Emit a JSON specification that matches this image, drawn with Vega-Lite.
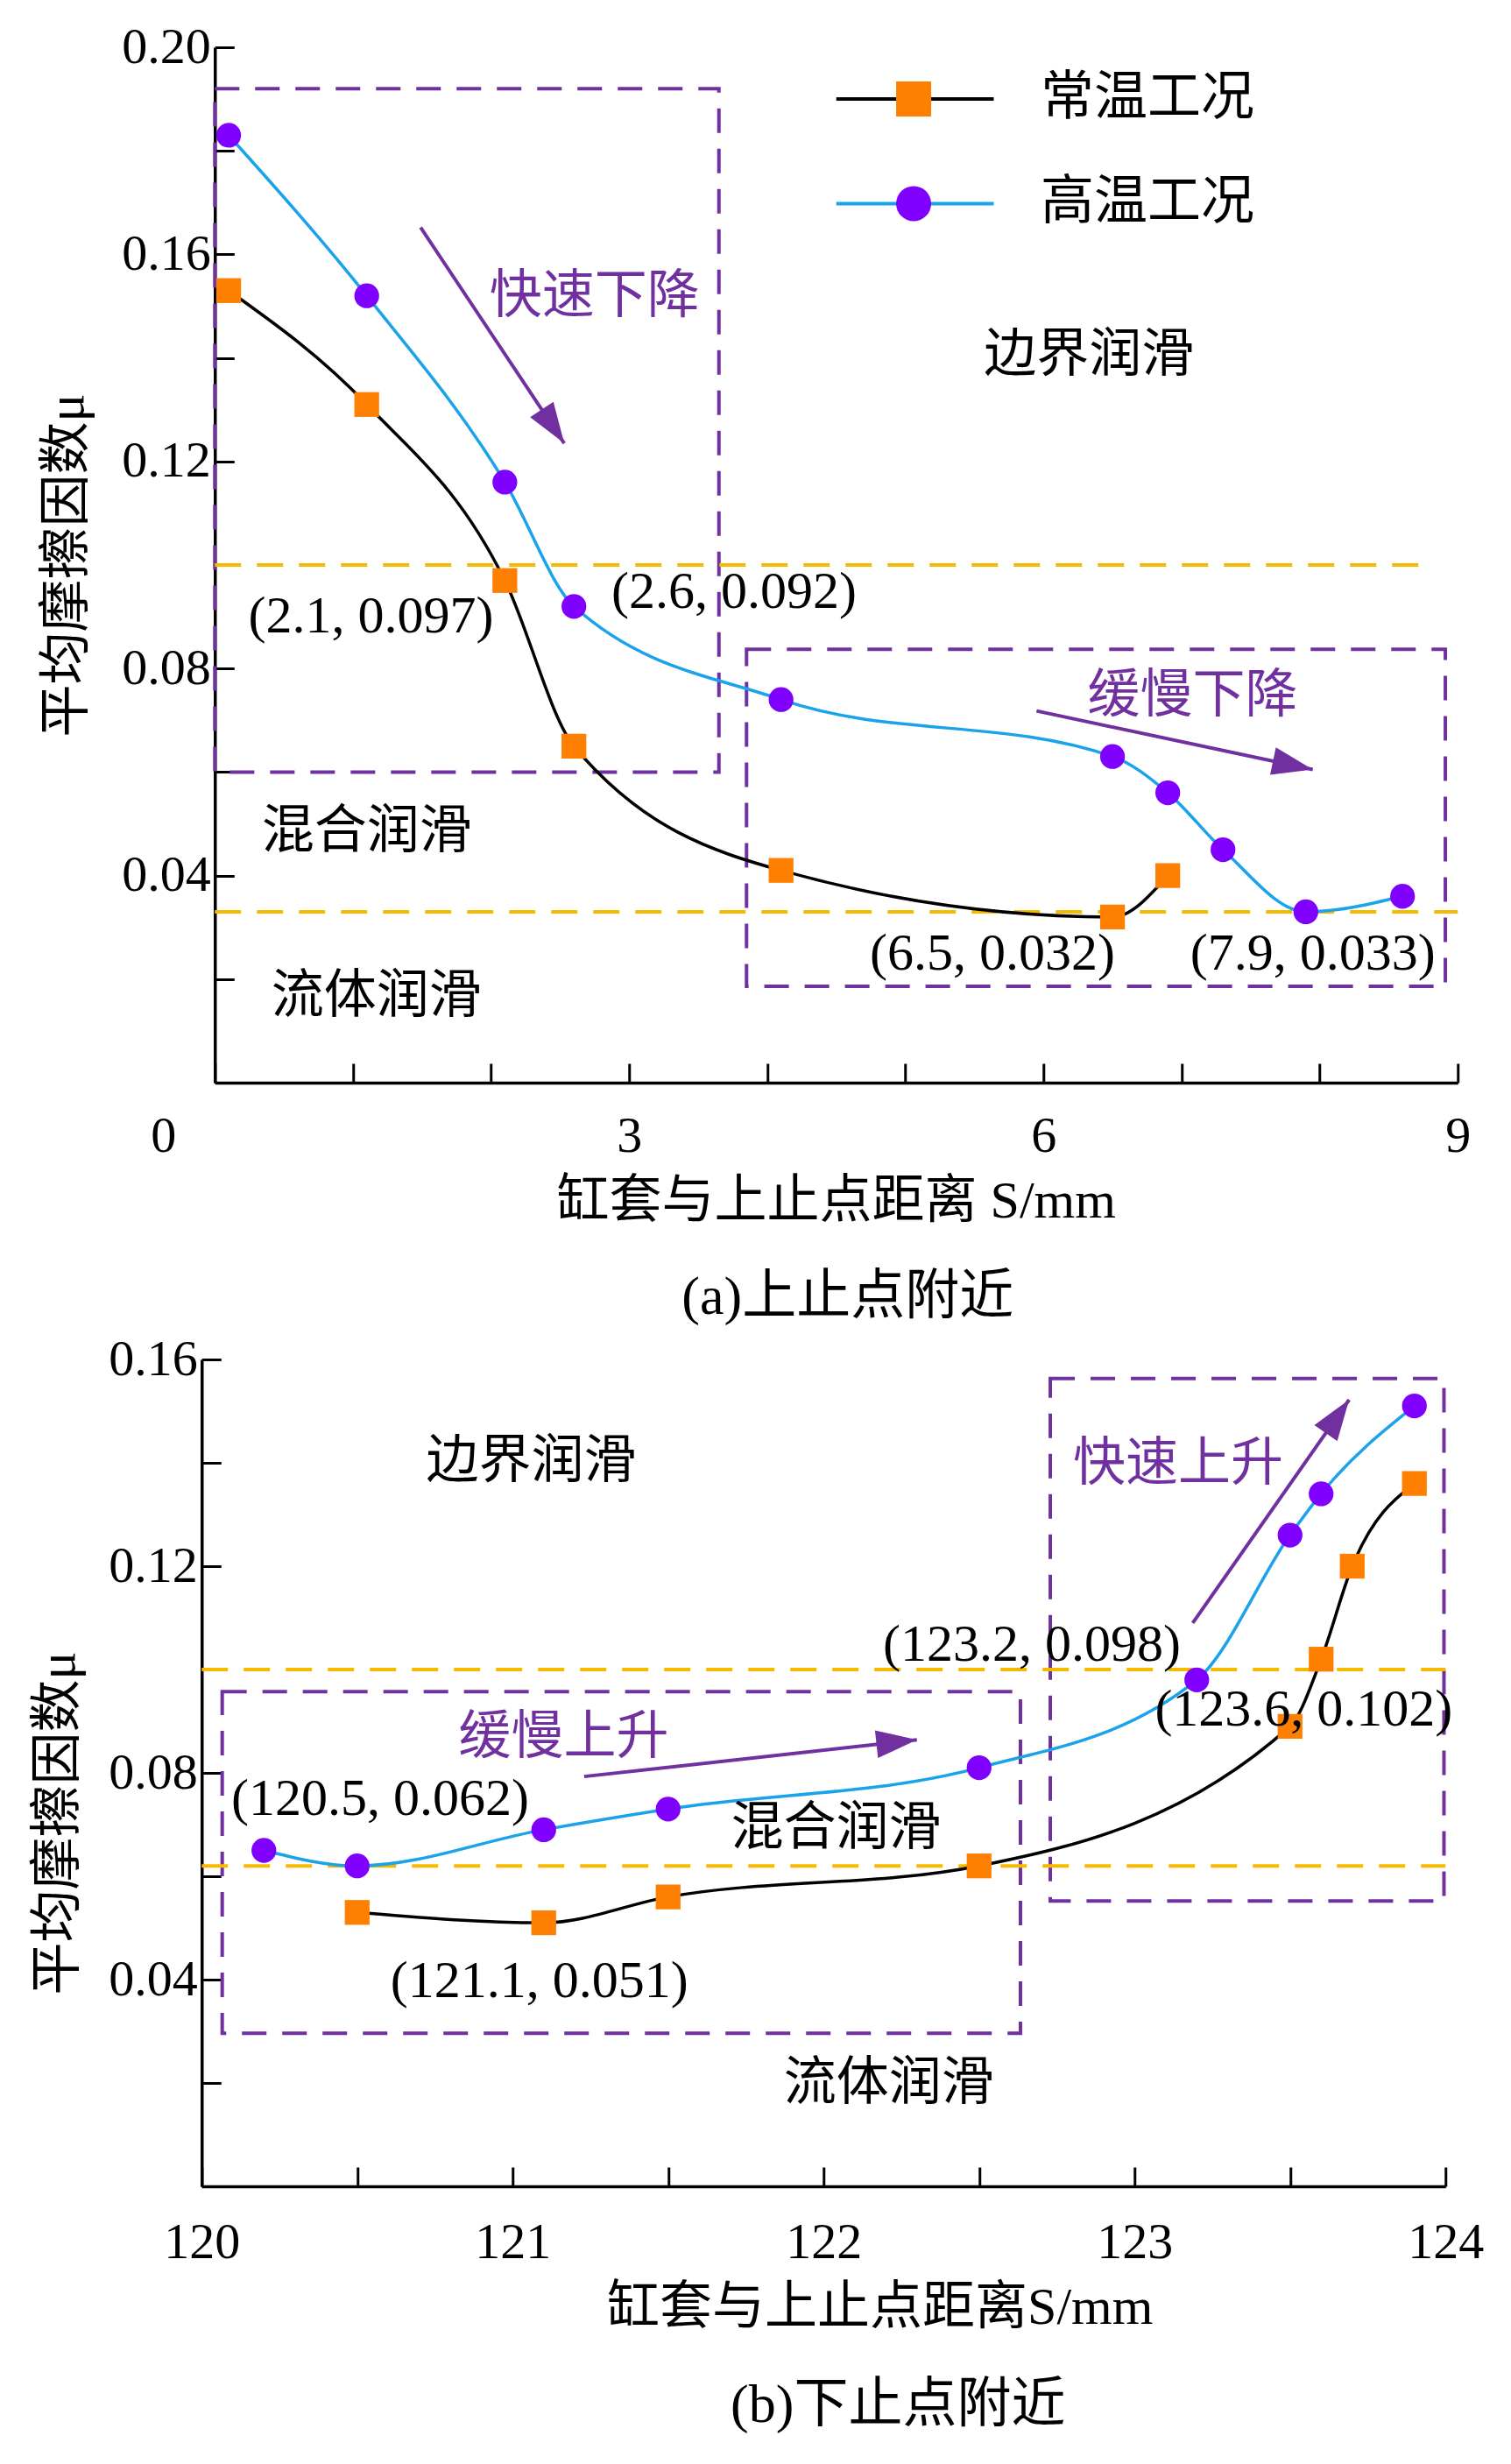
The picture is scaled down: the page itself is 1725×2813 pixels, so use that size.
{
  "$schema": "https://vega.github.io/schema/vega-lite/v6.json",
  "padding": {"left": 36, "top": 25, "right": 20, "bottom": 20},
  "spacing": 11,
  "center": true,
  "config": {
    "font": "Liberation Serif, Noto Sans CJK SC",
    "view": {"stroke": null},
    "axis": {
      "grid": false,
      "domainColor": "#000000",
      "domainWidth": 3.5,
      "tickColor": "#000000",
      "tickWidth": 3,
      "tickSize": -22,
      "labelFontSize": 58,
      "labelColor": "#000000",
      "labelOverlap": false,
      "labelFlush": false,
      "titleFontSize": 60,
      "titleFontWeight": "normal",
      "titleColor": "#000000"
    },
    "title": {"fontSize": 62, "fontWeight": "normal", "color": "#000000"}
  },
  "datasets": {
    "top_curves": [
      {"series": "常温工况", "x": 0.1, "y": 0.153},
      {"series": "常温工况", "x": 1.1, "y": 0.131},
      {"series": "常温工况", "x": 2.1, "y": 0.097},
      {"series": "常温工况", "x": 2.6, "y": 0.065},
      {"series": "常温工况", "x": 4.1, "y": 0.041},
      {"series": "常温工况", "x": 6.5, "y": 0.032},
      {"series": "常温工况", "x": 6.9, "y": 0.040},
      {"series": "高温工况", "x": 0.1, "y": 0.183},
      {"series": "高温工况", "x": 1.1, "y": 0.152},
      {"series": "高温工况", "x": 2.1, "y": 0.116},
      {"series": "高温工况", "x": 2.6, "y": 0.092},
      {"series": "高温工况", "x": 4.1, "y": 0.074},
      {"series": "高温工况", "x": 6.5, "y": 0.063},
      {"series": "高温工况", "x": 6.9, "y": 0.056},
      {"series": "高温工况", "x": 7.3, "y": 0.045},
      {"series": "高温工况", "x": 7.9, "y": 0.033},
      {"series": "高温工况", "x": 8.6, "y": 0.036}
    ],
    "top_refs": [
      {"x": 0, "x2": 8.8, "y": 0.100},
      {"x": 0, "x2": 9, "y": 0.033}
    ],
    "top_boxes": [
      {"x": 0, "x2": 3.65, "y": 0.192, "y2": 0.060},
      {"x": 3.85, "x2": 8.91, "y": 0.0837, "y2": 0.0186}
    ],
    "top_arrows": [
      {"id": 1, "x": 2.53, "y": 0.1235, "x2": 1.49, "y2": 0.1652},
      {"id": 2, "x": 7.95, "y": 0.0605, "x2": 5.95, "y2": 0.0718}
    ],
    "top_labels": [
      {"text": "(2.1, 0.097)", "x": 1.13, "y": 0.090},
      {"text": "(2.6, 0.092)", "x": 3.76, "y": 0.0947},
      {"text": "边界润滑", "x": 6.33, "y": 0.1405},
      {"text": "混合润滑", "x": 1.10, "y": 0.0484},
      {"text": "流体润滑", "x": 1.17, "y": 0.0165},
      {"text": "(6.5, 0.032)", "x": 5.63, "y": 0.0248},
      {"text": "(7.9, 0.033)", "x": 7.95, "y": 0.0248}
    ],
    "top_trends": [
      {"text": "快速下降", "x": 2.75, "y": 0.1518},
      {"text": "缓慢下降", "x": 7.08, "y": 0.0747}
    ],
    "legend_lines": [
      {"series": "常温工况", "x": 4.5, "x2": 5.64, "y": 0.1900},
      {"series": "高温工况", "x": 4.5, "x2": 5.64, "y": 0.1698}
    ],
    "legend_marks": [
      {"series": "常温工况", "x": 5.06, "y": 0.1900},
      {"series": "高温工况", "x": 5.06, "y": 0.1698}
    ],
    "legend_text": [
      {"text": "常温工况", "x": 5.98, "y": 0.1900},
      {"text": "高温工况", "x": 5.98, "y": 0.1698}
    ],
    "bottom_curves": [
      {"series": "常温工况", "x": 120.5, "y": 0.053},
      {"series": "常温工况", "x": 121.1, "y": 0.051},
      {"series": "常温工况", "x": 121.5, "y": 0.056},
      {"series": "常温工况", "x": 122.5, "y": 0.062},
      {"series": "常温工况", "x": 123.5, "y": 0.089},
      {"series": "常温工况", "x": 123.6, "y": 0.102},
      {"series": "常温工况", "x": 123.7, "y": 0.120},
      {"series": "常温工况", "x": 123.9, "y": 0.136},
      {"series": "高温工况", "x": 120.2, "y": 0.065},
      {"series": "高温工况", "x": 120.5, "y": 0.062},
      {"series": "高温工况", "x": 121.1, "y": 0.069},
      {"series": "高温工况", "x": 121.5, "y": 0.073},
      {"series": "高温工况", "x": 122.5, "y": 0.081},
      {"series": "高温工况", "x": 123.2, "y": 0.098},
      {"series": "高温工况", "x": 123.5, "y": 0.126},
      {"series": "高温工况", "x": 123.6, "y": 0.134},
      {"series": "高温工况", "x": 123.9, "y": 0.151}
    ],
    "bottom_refs": [
      {"x": 120, "x2": 124, "y": 0.100},
      {"x": 120, "x2": 124, "y": 0.062}
    ],
    "bottom_boxes": [
      {"x": 120.066, "x2": 122.633, "y": 0.0957, "y2": 0.0296},
      {"x": 122.729, "x2": 123.995, "y": 0.1563, "y2": 0.0552}
    ],
    "bottom_arrows": [
      {"id": 3, "x": 122.30, "y": 0.0864, "x2": 121.23, "y2": 0.0793},
      {"id": 4, "x": 123.69, "y": 0.1522, "x2": 123.187, "y2": 0.109}
    ],
    "bottom_labels": [
      {"text": "边界润滑", "x": 121.06, "y": 0.1401},
      {"text": "(123.2, 0.098)", "x": 122.67, "y": 0.1047},
      {"text": "(123.6, 0.102)", "x": 123.544, "y": 0.0922},
      {"text": "(120.5, 0.062)", "x": 120.574, "y": 0.0749},
      {"text": "混合润滑", "x": 122.04, "y": 0.0691},
      {"text": "(121.1, 0.051)", "x": 121.086, "y": 0.0397},
      {"text": "流体润滑", "x": 122.21, "y": 0.0199}
    ],
    "bottom_trends": [
      {"text": "快速上升", "x": 123.14, "y": 0.1397},
      {"text": "缓慢上升", "x": 121.164, "y": 0.0868}
    ]
  },
  "vconcat": [
    {
      "width": 1419,
      "height": 1182,
      "title": {"text": "(a)上止点附近", "orient": "bottom", "frame": "group", "offset": 50, "dx": 13},
      "encoding": {
        "x": {
          "field": "x",
          "type": "quantitative",
          "scale": {"domain": [0, 9], "nice": false, "zero": false},
          "axis": {
            "values": [0, 1, 2, 3, 4, 5, 6, 7, 8, 9],
            "labelExpr": "datum.value % 3 === 0 ? datum.label : ''",
            "labelOffset": {"condition": {"test": "datum.value === 0", "value": -59}, "value": 0},
            "labelPadding": 54,
            "title": "缸套与上止点距离 S/mm",
            "titleX": 709,
            "titleY": 135,
            "titleAlign": "center",
            "titleBaseline": "middle"
          }
        },
        "y": {
          "field": "y",
          "type": "quantitative",
          "scale": {"domain": [0, 0.2], "nice": false, "zero": false},
          "axis": {
            "values": [0, 0.02, 0.04, 0.06, 0.08, 0.1, 0.12, 0.14, 0.16, 0.18, 0.2],
            "labelExpr": "datum.value > 0.001 && round(datum.value * 100) % 4 === 0 ? format(datum.value, '.2f') : ''",
            "labelPadding": 27,
            "title": "平均摩擦因数μ",
            "titleX": -169,
            "titleY": 591,
            "titleAngle": -90,
            "titleAlign": "center",
            "titleBaseline": "middle"
          }
        }
      },
      "layer": [
        {
          "data": {"name": "top_boxes"},
          "mark": {"type": "rect", "filled": false, "stroke": "#7030A0", "strokeWidth": 4, "strokeDash": [28, 18]},
          "encoding": {"x2": {"field": "x2"}, "y2": {"field": "y2"}}
        },
        {
          "data": {"name": "top_refs"},
          "mark": {"type": "rule", "stroke": "#F5BA00", "strokeWidth": 4, "strokeDash": [30, 18]},
          "encoding": {"x2": {"field": "x2"}}
        },
        {
          "data": {"name": "top_curves"},
          "mark": {"type": "line", "interpolate": "monotone", "strokeWidth": 3.5},
          "encoding": {
            "stroke": {"field": "series", "type": "nominal", "scale": {"domain": ["常温工况", "高温工况"], "range": ["#000000", "#1AA3EA"]}, "legend": null}
          }
        },
        {
          "data": {"name": "top_curves"},
          "mark": {"type": "point", "filled": true, "size": 800, "opacity": 1},
          "encoding": {
            "fill": {"field": "series", "type": "nominal", "scale": {"domain": ["常温工况", "高温工况"], "range": ["#FF8000", "#8000FF"]}, "legend": null},
            "shape": {"field": "series", "type": "nominal", "scale": {"domain": ["常温工况", "高温工况"], "range": ["square", "circle"]}, "legend": null}
          }
        },
        {
          "data": {"name": "top_arrows"},
          "mark": {"type": "rule", "stroke": "#7030A0", "strokeWidth": 4},
          "encoding": {"x2": {"field": "x2"}, "y2": {"field": "y2"}}
        },
        {
          "data": {"name": "top_arrows"},
          "transform": [{"filter": "datum.id === 1"}],
          "mark": {"type": "point", "shape": "M0,0L0.55,1.6L-0.55,1.6Z", "filled": true, "color": "#7030A0", "opacity": 1, "size": 3364, "angle": 146.4},
          "encoding": {}
        },
        {
          "data": {"name": "top_arrows"},
          "transform": [{"filter": "datum.id === 2"}],
          "mark": {"type": "point", "shape": "M0,0L0.55,1.6L-0.55,1.6Z", "filled": true, "color": "#7030A0", "opacity": 1, "size": 3364, "angle": 101.9},
          "encoding": {}
        },
        {
          "data": {"name": "top_labels"},
          "mark": {"type": "text", "fontSize": 60, "color": "#000000"},
          "encoding": {"text": {"field": "text"}}
        },
        {
          "data": {"name": "top_trends"},
          "mark": {"type": "text", "fontSize": 60, "color": "#7030A0"},
          "encoding": {"text": {"field": "text"}}
        },
        {
          "data": {"name": "legend_lines"},
          "mark": {"type": "rule", "strokeWidth": 4},
          "encoding": {
            "x2": {"field": "x2"},
            "stroke": {"field": "series", "type": "nominal", "scale": {"domain": ["常温工况", "高温工况"], "range": ["#000000", "#1AA3EA"]}, "legend": null}
          }
        },
        {
          "data": {"name": "legend_marks"},
          "mark": {"type": "point", "filled": true, "size": 1600, "opacity": 1},
          "encoding": {
            "fill": {"field": "series", "type": "nominal", "scale": {"domain": ["常温工况", "高温工况"], "range": ["#FF8000", "#8000FF"]}, "legend": null},
            "shape": {"field": "series", "type": "nominal", "scale": {"domain": ["常温工况", "高温工况"], "range": ["square", "circle"]}, "legend": null}
          }
        },
        {
          "data": {"name": "legend_text"},
          "mark": {"type": "text", "fontSize": 61, "align": "left", "color": "#000000"},
          "encoding": {"text": {"field": "text"}}
        }
      ]
    },
    {
      "width": 1420,
      "height": 944,
      "title": {"text": "(b)下止点附近", "orient": "bottom", "frame": "group", "offset": 52, "dx": 85},
      "encoding": {
        "x": {
          "field": "x",
          "type": "quantitative",
          "scale": {"domain": [120, 124], "nice": false, "zero": false},
          "axis": {
            "values": [120, 120.5, 121, 121.5, 122, 122.5, 123, 123.5, 124],
            "labelExpr": "datum.value % 1 === 0 ? format(datum.value, 'd') : ''",
            "labelPadding": 57,
            "title": "缸套与上止点距离S/mm",
            "titleX": 774,
            "titleY": 138,
            "titleAlign": "center",
            "titleBaseline": "middle"
          }
        },
        "y": {
          "field": "y",
          "type": "quantitative",
          "scale": {"domain": [0, 0.16], "nice": false, "zero": false},
          "axis": {
            "values": [0, 0.02, 0.04, 0.06, 0.08, 0.1, 0.12, 0.14, 0.16],
            "labelExpr": "datum.value > 0.001 && round(datum.value * 100) % 4 === 0 ? format(datum.value, '.2f') : ''",
            "labelPadding": 27,
            "title": "平均摩擦因数μ",
            "titleX": -164,
            "titleY": 529,
            "titleAngle": -90,
            "titleAlign": "center",
            "titleBaseline": "middle"
          }
        }
      },
      "layer": [
        {
          "data": {"name": "bottom_boxes"},
          "mark": {"type": "rect", "filled": false, "stroke": "#7030A0", "strokeWidth": 4, "strokeDash": [28, 18]},
          "encoding": {"x2": {"field": "x2"}, "y2": {"field": "y2"}}
        },
        {
          "data": {"name": "bottom_refs"},
          "mark": {"type": "rule", "stroke": "#F5BA00", "strokeWidth": 4, "strokeDash": [30, 18]},
          "encoding": {"x2": {"field": "x2"}}
        },
        {
          "data": {"name": "bottom_curves"},
          "mark": {"type": "line", "interpolate": "monotone", "strokeWidth": 3.5},
          "encoding": {
            "stroke": {"field": "series", "type": "nominal", "scale": {"domain": ["常温工况", "高温工况"], "range": ["#000000", "#1AA3EA"]}, "legend": null}
          }
        },
        {
          "data": {"name": "bottom_curves"},
          "mark": {"type": "point", "filled": true, "size": 800, "opacity": 1},
          "encoding": {
            "fill": {"field": "series", "type": "nominal", "scale": {"domain": ["常温工况", "高温工况"], "range": ["#FF8000", "#8000FF"]}, "legend": null},
            "shape": {"field": "series", "type": "nominal", "scale": {"domain": ["常温工况", "高温工况"], "range": ["square", "circle"]}, "legend": null}
          }
        },
        {
          "data": {"name": "bottom_arrows"},
          "mark": {"type": "rule", "stroke": "#7030A0", "strokeWidth": 4},
          "encoding": {"x2": {"field": "x2"}, "y2": {"field": "y2"}}
        },
        {
          "data": {"name": "bottom_arrows"},
          "transform": [{"filter": "datum.id === 3"}],
          "mark": {"type": "point", "shape": "M0,0L0.55,1.6L-0.55,1.6Z", "filled": true, "color": "#7030A0", "opacity": 1, "size": 3364, "angle": 83.8},
          "encoding": {}
        },
        {
          "data": {"name": "bottom_arrows"},
          "transform": [{"filter": "datum.id === 4"}],
          "mark": {"type": "point", "shape": "M0,0L0.55,1.6L-0.55,1.6Z", "filled": true, "color": "#7030A0", "opacity": 1, "size": 3364, "angle": 35},
          "encoding": {}
        },
        {
          "data": {"name": "bottom_labels"},
          "mark": {"type": "text", "fontSize": 60, "color": "#000000"},
          "encoding": {"text": {"field": "text"}}
        },
        {
          "data": {"name": "bottom_trends"},
          "mark": {"type": "text", "fontSize": 60, "color": "#7030A0"},
          "encoding": {"text": {"field": "text"}}
        }
      ]
    }
  ]
}
